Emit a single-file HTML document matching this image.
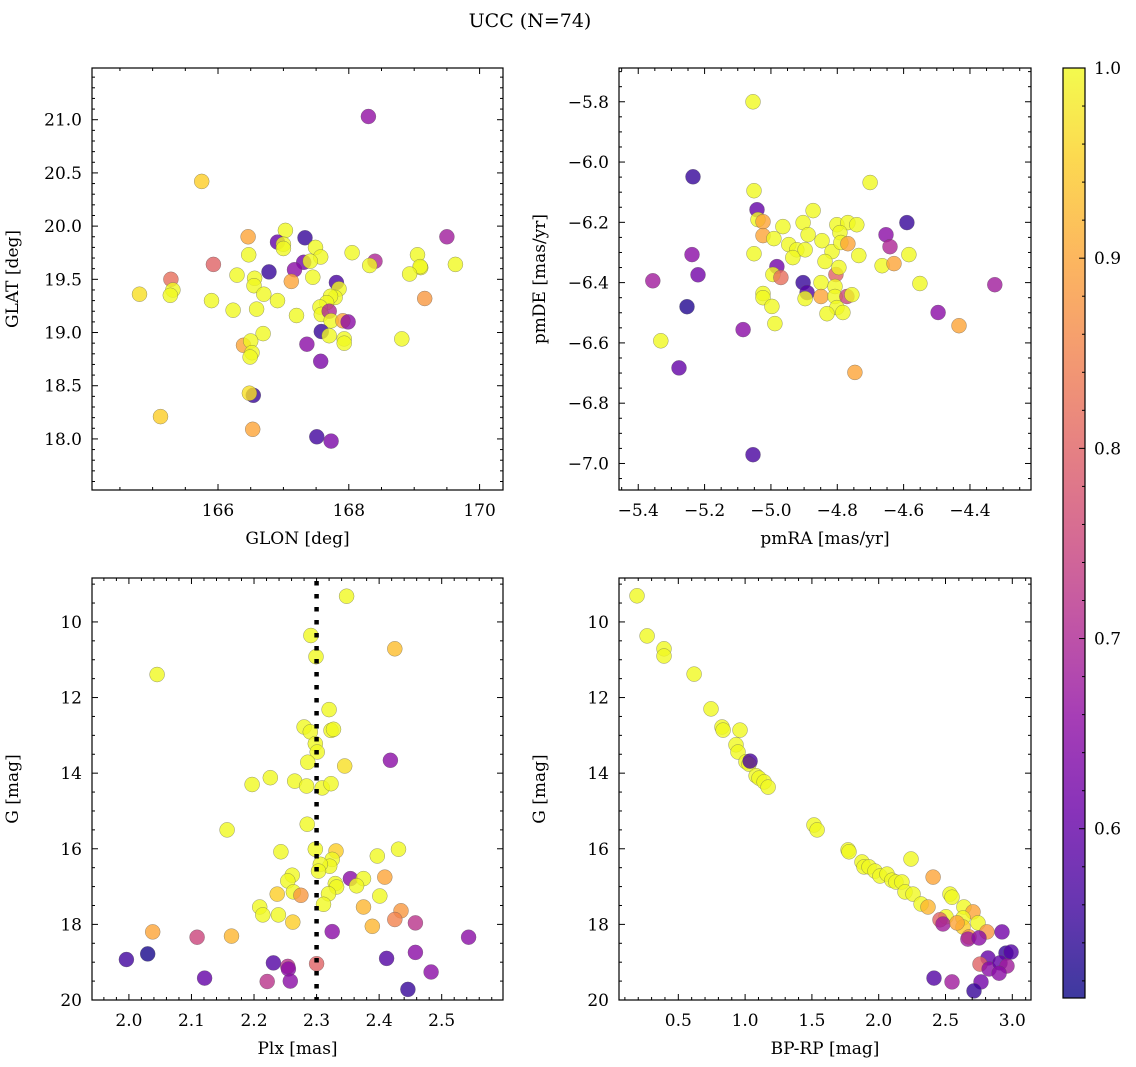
<!DOCTYPE html>
<html><head><meta charset="utf-8"><title>UCC (N=74)</title>
<style>
html,body{margin:0;padding:0;background:#fff;}
svg{display:block;font-family:"DejaVu Serif","Liberation Serif",serif;}
</style></head>
<body>
<svg id="fig" width="1136" height="1067" viewBox="0 0 1136 1067" xmlns="http://www.w3.org/2000/svg">
<rect width="1136" height="1067" fill="#fff"/>
<text x="530" y="27" font-size="19" text-anchor="middle">UCC (N=74)</text>
</svg>
<script>
// ---- Panel 1: GLON vs GLAT ----
const glon = [168.30,165.75,169.50,166.46,167.03,167.33,166.91,167.00,167.00,167.49,167.57,168.05,166.47,167.31,167.41,168.40,168.32,169.05,169.10,169.09,169.63,165.93,165.28,165.31,165.27,164.80,166.29,166.56,166.55,166.78,167.17,167.12,167.45,167.81,167.85,167.79,167.72,167.66,167.56,167.58,167.70,167.73,167.91,167.99,166.70,166.91,165.90,166.23,166.59,167.20,166.69,167.58,167.70,167.93,167.93,168.81,169.16,166.39,166.50,166.52,166.49,167.36,167.57,166.54,166.48,165.12,166.53,167.51,167.73,168.93];
const glat = [21.03,20.42,19.90,19.90,19.96,19.89,19.85,19.83,19.79,19.80,19.71,19.75,19.73,19.66,19.67,19.67,19.63,19.73,19.61,19.62,19.64,19.64,19.50,19.40,19.35,19.36,19.54,19.51,19.44,19.57,19.59,19.48,19.52,19.47,19.41,19.33,19.34,19.28,19.24,19.17,19.20,19.11,19.11,19.10,19.36,19.30,19.30,19.21,19.22,19.16,18.99,19.01,18.97,18.94,18.90,18.94,19.32,18.88,18.92,18.81,18.77,18.89,18.73,18.41,18.43,18.21,18.09,18.02,17.98,19.55];
const prob1 = [.66,.95,.68,.9,1,.55,.6,1,1,1,1,1,1,.62,1,.7,1,1,1,1,1,.8,.82,1,1,.97,1,1,1,.55,.65,.9,1,.57,1,1,1,1,1,1,.7,1,.9,.65,1,1,1,1,1,1,1,.55,1,1,1,1,.88,.9,1,1,1,.65,.63,.55,.97,.95,.9,.56,.63,1];
// ---- Panel 2: pmRA vs pmDE ----
const pmra = [-5.054,-5.051,-4.701,-5.042,-5.039,-5.024,-4.964,-5.024,-4.991,-5.051,-4.946,-4.922,-4.934,-4.897,-4.903,-4.873,-4.888,-4.846,-4.816,-4.837,-4.801,-4.768,-4.741,-4.792,-4.789,-4.768,-4.735,-4.653,-4.641,-4.590,-4.665,-4.629,-4.584,-4.551,-4.496,-4.982,-4.994,-4.970,-4.903,-4.891,-4.897,-4.849,-4.804,-4.795,-4.807,-4.849,-4.807,-4.771,-4.756,-4.801,-4.831,-4.783,-5.024,-5.024,-4.997,-4.988,-5.084,-4.747,-5.356,-5.220,-5.253,-5.332,-5.277,-5.235,-5.238,-5.054,-4.433,-4.325];
const pmde = [-5.800,-6.095,-6.068,-6.158,-6.191,-6.198,-6.214,-6.244,-6.254,-6.304,-6.274,-6.291,-6.317,-6.291,-6.201,-6.161,-6.241,-6.261,-6.297,-6.330,-6.208,-6.201,-6.208,-6.234,-6.267,-6.271,-6.310,-6.241,-6.281,-6.201,-6.344,-6.337,-6.307,-6.403,-6.499,-6.347,-6.373,-6.383,-6.400,-6.433,-6.453,-6.400,-6.373,-6.350,-6.413,-6.446,-6.446,-6.446,-6.440,-6.483,-6.503,-6.499,-6.436,-6.450,-6.479,-6.536,-6.556,-6.698,-6.394,-6.374,-6.480,-6.593,-6.683,-6.049,-6.307,-6.971,-6.543,-6.407];
const prob2 = [1,1,1,.6,1,.9,1,.9,1,1,1,1,1,1,1,1,1,1,1,1,1,1,1,1,1,.9,1,.65,.7,.55,1,.9,1,1,.65,.62,1,.82,.55,.58,1,1,.8,1,1,.9,1,.75,1,1,1,1,1,1,1,1,.65,.9,.68,.62,.53,1,.6,.55,.65,.57,.9,.68];
// ---- Panel 3: Plx vs G ----
const plx = [2.348,2.291,2.299,2.425,2.045,2.320,2.280,2.290,2.323,2.327,2.298,2.301,2.286,2.345,2.418,2.197,2.226,2.265,2.284,2.309,2.323,2.157,2.285,2.243,2.298,2.331,2.325,2.321,2.306,2.303,2.397,2.431,2.261,2.254,2.354,2.375,2.364,2.330,2.332,2.409,2.237,2.263,2.275,2.319,2.311,2.401,2.209,2.375,2.435,2.214,2.239,1.996,2.030,2.038,2.109,2.164,2.121,2.231,2.254,2.255,2.221,2.258,2.300,2.325,2.412,2.458,2.483,2.446,2.458,2.425,2.389,2.543,2.262];
const gmag3 = [9.32,10.36,10.92,10.71,11.39,12.32,12.78,12.91,12.87,12.84,13.22,13.44,13.71,13.81,13.66,14.30,14.12,14.21,14.34,14.39,14.28,15.50,15.35,16.08,16.01,16.06,16.28,16.46,16.41,16.59,16.19,16.01,16.70,16.85,16.79,16.79,16.98,16.92,17.01,16.75,17.20,17.14,17.23,17.19,17.47,17.25,17.54,17.54,17.64,17.75,17.75,18.93,18.78,18.20,18.34,18.31,19.42,19.02,19.11,19.18,19.51,19.50,19.04,18.19,18.90,18.74,19.26,19.72,17.96,17.87,18.05,18.34,17.94];
const prob3 = [1,1,1,.93,1,1,1,1,1,1,1,1,1,.97,.65,1,1,1,1,1,1,1,1,1,1,.95,1,1,1,1,1,1,1,1,.65,1,1,1,1,.9,.95,1,.88,1,1,1,1,.92,.88,1,1,.56,.52,.9,.75,.92,.6,.58,.72,.65,.72,.65,.8,.65,.58,.65,.65,.55,.72,.85,.92,.65,.95];
const plxLine = [2.3];
// ---- Panel 4: BP-RP vs G ----
const bprp = [0.191,0.266,0.393,0.393,0.618,0.745,0.827,0.835,0.962,0.932,0.947,1.007,1.029,1.037,1.082,1.104,1.142,1.172,1.516,1.539,1.771,1.778,1.875,1.890,1.927,1.972,2.010,2.062,2.099,2.129,2.242,2.407,2.174,2.197,2.257,2.317,2.369,2.534,2.549,2.638,2.706,2.504,2.459,2.481,2.631,2.631,2.586,2.743,2.810,2.676,2.668,2.751,2.923,2.818,2.758,2.826,2.953,2.991,2.908,2.960,2.901,2.414,2.549,2.766,2.713];
const gmag4 = [9.31,10.37,10.71,10.90,11.38,12.30,12.78,12.86,12.86,13.25,13.44,13.70,13.76,13.68,14.07,14.13,14.23,14.37,15.37,15.50,16.03,16.08,16.35,16.48,16.48,16.59,16.72,16.67,16.83,16.88,16.27,16.75,16.88,17.14,17.20,17.46,17.54,17.20,17.28,17.54,17.67,17.80,17.88,17.99,17.83,18.07,17.96,17.96,18.20,18.33,18.39,18.36,18.20,18.89,19.05,19.18,18.76,18.73,19.02,19.10,19.29,19.42,19.52,19.52,19.76];
const prob4 = [1,1,1,1,1,1,1,1,1,1,1,1,1,.57,1,1,1,1,1,1,1,1,1,1,1,1,1,1,1,1,1,.9,1,1,1,1,.92,1,1,1,.9,1,.8,.68,1,.95,.9,1,.88,.88,.68,.65,.62,.6,.8,.65,.55,.58,.6,.68,.65,.58,.68,.62,.55];
// ---- Colorbar ----
const cbTicks = [0.6,0.7,0.8,0.9,1.0];
const VMIN = 0.511, VMAX = 1.0;

const NS = "http://www.w3.org/2000/svg";
const svg = document.getElementById('fig');
function mk(tag, attrs, parent){
  const e = document.createElementNS(NS, tag);
  for (const k in attrs) e.setAttribute(k, attrs[k]);
  (parent||svg).appendChild(e);
  return e;
}
const stops = ["#0d0887","#41049d","#6a00a8","#8f0da4","#b12a90","#cc4778","#e16462","#f2844b","#fca636","#fcce25","#f0f921"];
function hex(h){return [parseInt(h.slice(1,3),16),parseInt(h.slice(3,5),16),parseInt(h.slice(5,7),16)];}
function plasma(t){
  t=Math.max(0,Math.min(1,t));
  const f=t*10, i=Math.min(9,Math.floor(f)), r=f-i;
  const a=hex(stops[i]), b=hex(stops[i+1]);
  return "rgb("+a.map((v,k)=>Math.round(v+(b[k]-v)*r)).join(",")+")";
}
function cmap(p){return plasma((p-VMIN)/(VMAX-VMIN));}
function fmt(v,d){const s=v.toFixed(d);return s.replace("-","\u2212");}

function makePanel(cfg){
  const g = mk('g',{});
  
  
  const sx = v => cfg.x0 + (v-cfg.xmin)/(cfg.xmax-cfg.xmin)*(cfg.x1-cfg.x0);
  const sy = cfg.yInvert ? (v => cfg.y0 + (v-cfg.ymin)/(cfg.ymax-cfg.ymin)*(cfg.y1-cfg.y0))
                         : (v => cfg.y1 - (v-cfg.ymin)/(cfg.ymax-cfg.ymin)*(cfg.y1-cfg.y0));
  const clip = mk('clipPath',{id:cfg.name+'-clip'},g);
  mk('rect',{x:cfg.x0,y:cfg.y0,width:cfg.x1-cfg.x0,height:cfg.y1-cfg.y0},clip);
  const pts = mk('g',{'clip-path':'url(#'+cfg.name+'-clip)'},g);
  for(let i=0;i<cfg.xs.length;i++){
    const c = mk('circle',{cx:sx(cfg.xs[i]).toFixed(1),cy:sy(cfg.ys[i]).toFixed(1),r:7.5,fill:cmap(cfg.cs[i]),'fill-opacity':0.8,stroke:'#555','stroke-opacity':0.6,'stroke-width':0.5},pts);
    
    
  }
  if(cfg.vline){
    const l = mk('line',{x1:sx(cfg.vline[0]),x2:sx(cfg.vline[0]),y1:cfg.y0,y2:cfg.y1,stroke:'#000','stroke-width':4.5,'stroke-dasharray':'4.5,8.5','stroke-dashoffset':-3},pts);
    
    
  }
  const tk = mk('g',{stroke:'#000','stroke-width':1},g);
  const eps=1e-9;
  for(let v=Math.ceil(cfg.xmin/cfg.xminor-eps)*cfg.xminor; v<=cfg.xmax+eps; v+=cfg.xminor){
    const major = Math.abs(v/cfg.xmajor - Math.round(v/cfg.xmajor))<1e-6;
    const L = major?6:3, X=sx(v);
    mk('line',{x1:X,x2:X,y1:cfg.y1,y2:cfg.y1-L},tk);
    mk('line',{x1:X,x2:X,y1:cfg.y0,y2:cfg.y0+L},tk);
    if(major){
      const t = mk('text',{x:X,y:cfg.y1+26,'font-size':17,'text-anchor':'middle',stroke:'none'},g);
      t.textContent = fmt(Math.round(v/cfg.xmajor)*cfg.xmajor, cfg.xdec);
      
      
    }
  }
  for(let v=Math.ceil(cfg.ymin/cfg.yminor-eps)*cfg.yminor; v<=cfg.ymax+eps; v+=cfg.yminor){
    const major = Math.abs(v/cfg.ymajor - Math.round(v/cfg.ymajor))<1e-6;
    const L = major?6:3, Y=sy(v);
    mk('line',{x1:cfg.x0,x2:cfg.x0+L,y1:Y,y2:Y},tk);
    mk('line',{x1:cfg.x1,x2:cfg.x1-L,y1:Y,y2:Y},tk);
    if(major){
      const t = mk('text',{x:cfg.x0-10,y:Y+6,'font-size':17,'text-anchor':'end',stroke:'none'},g);
      t.textContent = fmt(Math.round(v/cfg.ymajor)*cfg.ymajor, cfg.ydec);
      
      
    }
  }
  const fr = mk('rect',{x:cfg.x0,y:cfg.y0,width:cfg.x1-cfg.x0,height:cfg.y1-cfg.y0,fill:'none',stroke:'#000','stroke-width':1.2},g);
  
  
  const xt = mk('text',{x:(cfg.x0+cfg.x1)/2,y:cfg.y1+54,'font-size':17,'text-anchor':'middle'},g);
  xt.textContent = cfg.xlabel;
  
  
  const yc=(cfg.y0+cfg.y1)/2, yx=cfg.x0-74;
  const yt = mk('text',{x:yx,y:yc,'font-size':17,'text-anchor':'middle',transform:'rotate(-90 '+yx+' '+yc+')'},g);
  yt.textContent = cfg.ylabel;
  
  
}

makePanel({name:'glon-glat-panel',x0:92,x1:503,y0:68,y1:490,xmin:164.073,xmax:170.358,ymin:17.520,ymax:21.486,
  xs:glon,ys:glat,cs:prob1,xmajor:2,xminor:0.5,ymajor:0.5,yminor:0.1,xdec:0,ydec:1,xlabel:'GLON [deg]',ylabel:'GLAT [deg]'});
makePanel({name:'pm-panel',x0:619,x1:1031,y0:68,y1:490,xmin:-5.458,xmax:-4.216,ymin:-7.088,ymax:-5.688,
  xs:pmra,ys:pmde,cs:prob2,xmajor:0.2,xminor:0.05,ymajor:0.2,yminor:0.05,xdec:1,ydec:1,xlabel:'pmRA [mas/yr]',ylabel:'pmDE [mas/yr]'});
makePanel({name:'plx-g-panel',x0:92,x1:503,y0:578,y1:1000,xmin:1.941,xmax:2.598,ymin:8.838,ymax:20,yInvert:true,
  xs:plx,ys:gmag3,cs:prob3,vline:plxLine,xmajor:0.1,xminor:0.02,ymajor:2,yminor:0.5,xdec:1,ydec:0,xlabel:'Plx [mas]',ylabel:'G [mag]'});
makePanel({name:'cmd-panel',x0:619,x1:1031,y0:578,y1:1000,xmin:0.056,xmax:3.140,ymin:8.838,ymax:20,yInvert:true,
  xs:bprp,ys:gmag4,cs:prob4,xmajor:0.5,xminor:0.1,ymajor:2,yminor:0.5,xdec:1,ydec:0,xlabel:'BP-RP [mag]',ylabel:'G [mag]'});

(function(){
  const cx0=1063,cx1=1085,cy0=68,cy1=998;
  const g = mk('g',{});
  
  
  const defs = mk('defs',{},g);
  const lg = mk('linearGradient',{id:'cbgrad',x1:0,y1:1,x2:0,y2:0},defs);
  for(let i=0;i<=20;i++){
    const p = VMIN + (VMAX-VMIN)*i/20;
    mk('stop',{offset:(i/20),'stop-color':cmap(p),'stop-opacity':0.8},lg);
  }
  mk('rect',{x:cx0,y:cy0,width:cx1-cx0,height:cy1-cy0,fill:'url(#cbgrad)'},g);
  const sy = v => cy1 - (v-VMIN)/(VMAX-VMIN)*(cy1-cy0);
  for(let v=0.52; v<=1.0001; v+=0.02){
    const major = Math.abs(v*10-Math.round(v*10))<1e-6;
    mk('line',{x1:cx1,x2:cx1-(major?6:3),y1:sy(v),y2:sy(v),stroke:'#000','stroke-width':1},g);
  }
  for(const v of cbTicks){
    const t = mk('text',{x:cx1+9,y:sy(v)+6,'font-size':17},g);
    t.textContent = v.toFixed(1);
    
    
  }
  mk('rect',{x:cx0,y:cy0,width:cx1-cx0,height:cy1-cy0,fill:'none',stroke:'#000','stroke-width':1.2},g);
})();
</script>
</body></html>
